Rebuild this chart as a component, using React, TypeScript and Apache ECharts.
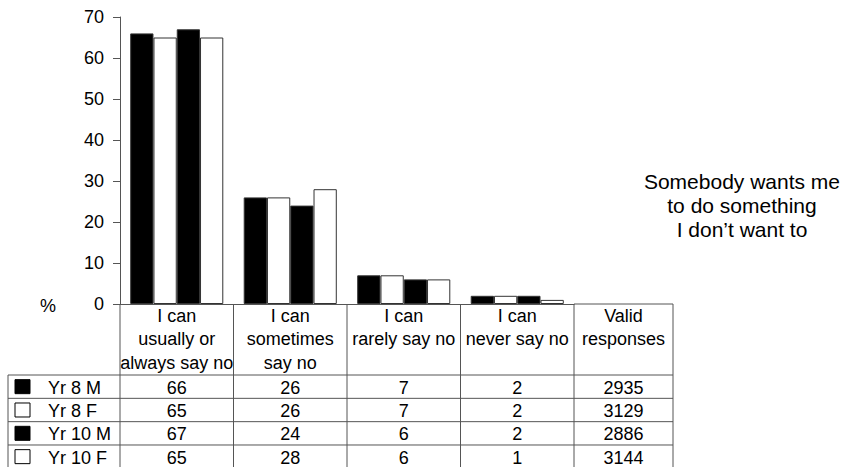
import React, { useEffect, useRef } from "react";
import * as echarts from "echarts";

const categories = [
  "I can\nusually or\nalways say no",
  "I can\nsometimes\nsay no",
  "I can\nrarely say no",
  "I can\nnever say no",
];
const extraHeader = "Valid\nresponses";
const seriesNames = ["Yr 8 M", "Yr 8 F", "Yr 10 M", "Yr 10 F"];
const seriesFills = ["#000000", "#ffffff", "#000000", "#ffffff"];
const yr8M = [66, 26, 7, 2];
const yr8F = [65, 26, 7, 2];
const yr10M = [67, 24, 6, 2];
const yr10F = [65, 28, 6, 1];
const seriesValues = [yr8M, yr8F, yr10M, yr10F];
const validResponses = [2935, 3129, 2886, 3144];
const yMin = 0;
const yMax = 70;
const yInterval = 10;
const titleText = "Somebody wants me\nto do something\nI don\u2019t want to";
const unitLabel = "%";

const FONT = "Arial, 'Liberation Sans', sans-serif";

export default function App() {
  const ref = useRef<HTMLDivElement>(null);
  useEffect(() => {
    if (!ref.current) return;
    const chart = echarts.init(ref.current, null, { renderer: "svg" });

    const W = 843;
    const H = 467;
    const gridLeft = 120;
    const gridRight = 574;
    const gridTop = 17;
    const axisY = 304;
    const catW = (gridRight - gridLeft) / categories.length;
    const extraRight = 673;
    const tableLeft = 8;
    const headerBottom = 375;
    const rowH = 23.33;
    const lineColor = "#555555";

    const colEdges: number[] = [];
    for (let i = 0; i <= categories.length; i++) colEdges.push(gridLeft + catW * i);
    colEdges.push(extraRight);

    const graphics: any[] = [];
    // x-axis extension under "Valid responses"
    graphics.push({
      type: "line",
      shape: { x1: gridRight, y1: axisY, x2: extraRight, y2: axisY },
      style: { stroke: lineColor, lineWidth: 1 },
    });
    // vertical column lines
    colEdges.forEach((x) => {
      graphics.push({
        type: "line",
        shape: { x1: x, y1: axisY, x2: x, y2: H },
        style: { stroke: lineColor, lineWidth: 1 },
      });
    });
    graphics.push({
      type: "line",
      shape: { x1: tableLeft, y1: headerBottom, x2: tableLeft, y2: H },
      style: { stroke: lineColor, lineWidth: 1 },
    });
    // horizontal row lines
    for (let r = 0; r <= seriesNames.length; r++) {
      const y = headerBottom + rowH * r;
      graphics.push({
        type: "line",
        shape: { x1: tableLeft, y1: y, x2: extraRight, y2: y },
        style: { stroke: lineColor, lineWidth: 1 },
      });
    }
    // extra header
    graphics.push({
      type: "text",
      style: {
        text: extraHeader,
        x: (gridRight + extraRight) / 2,
        y: axisY,
        align: "center",
        verticalAlign: "top",
        lineHeight: 23.5,
        fontSize: 18,
        fontFamily: FONT,
        fill: "#000",
      },
    });
    // rows
    seriesNames.forEach((name, r) => {
      const cy = headerBottom + rowH * r + rowH / 2;
      graphics.push({
        type: "rect",
        shape: { x: 15, y: cy - 7, width: 15, height: 14 },
        style: { fill: seriesFills[r], stroke: "#000", lineWidth: 1 },
      });
      graphics.push({
        type: "text",
        style: {
          text: name,
          x: 48,
          y: cy + 1,
          align: "left",
          verticalAlign: "middle",
          fontSize: 18,
          fontFamily: FONT,
          fill: "#000",
        },
      });
      const vals = [...seriesValues[r].map(String), String(validResponses[r])];
      vals.forEach((v, c) => {
        graphics.push({
          type: "text",
          style: {
            text: v,
            x: (colEdges[c] + colEdges[c + 1]) / 2,
            y: cy + 1,
            align: "center",
            verticalAlign: "middle",
            fontSize: 18,
            fontFamily: FONT,
            fill: "#000",
          },
        });
      });
    });
    // unit label
    graphics.push({
      type: "text",
      style: {
        text: unitLabel,
        x: 48,
        y: axisY + 2,
        align: "center",
        verticalAlign: "middle",
        fontSize: 18,
        fontFamily: FONT,
        fill: "#000",
      },
    });
    // title
    graphics.push({
      type: "text",
      style: {
        text: titleText,
        x: 742,
        y: 205,
        align: "center",
        verticalAlign: "middle",
        lineHeight: 24,
        fontSize: 21,
        fontFamily: FONT,
        fill: "#000",
      },
    });

    chart.setOption({
      animation: false,
      backgroundColor: "#ffffff",
      grid: {
        left: gridLeft,
        right: W - gridRight,
        top: gridTop,
        bottom: H - axisY,
        containLabel: false,
      },
      xAxis: {
        type: "category",
        data: categories,
        axisLine: { show: true, lineStyle: { color: lineColor, width: 1 } },
        axisTick: { show: false },
        axisLabel: {
          show: true,
          margin: 0,
          interval: 0,
          fontSize: 18,
          lineHeight: 23.5,
          fontFamily: FONT,
          color: "#000",
          verticalAlign: "top",
        },
        splitLine: { show: false },
      },
      yAxis: {
        type: "value",
        min: yMin,
        max: yMax,
        interval: yInterval,
        axisLine: { show: true, lineStyle: { color: lineColor, width: 1 } },
        axisTick: { show: true, length: 7, inside: false, lineStyle: { color: lineColor } },
        axisLabel: { margin: 16, fontSize: 18, fontFamily: FONT, color: "#000" },
        splitLine: { show: false },
      },
      series: seriesNames.map((name, i) => ({
        name,
        type: "bar",
        data: seriesValues[i],
        barGap: "0%",
        barCategoryGap: "18%",
        itemStyle: { color: seriesFills[i], borderColor: "#333333", borderWidth: 1 },
      })),
      graphic: graphics,
    });

    return () => chart.dispose();
  }, []);

  return (
    <div
      ref={ref}
      style={{ position: "fixed", left: 0, top: 0, width: 843, height: 467, background: "#fff" }}
    />
  );
}
